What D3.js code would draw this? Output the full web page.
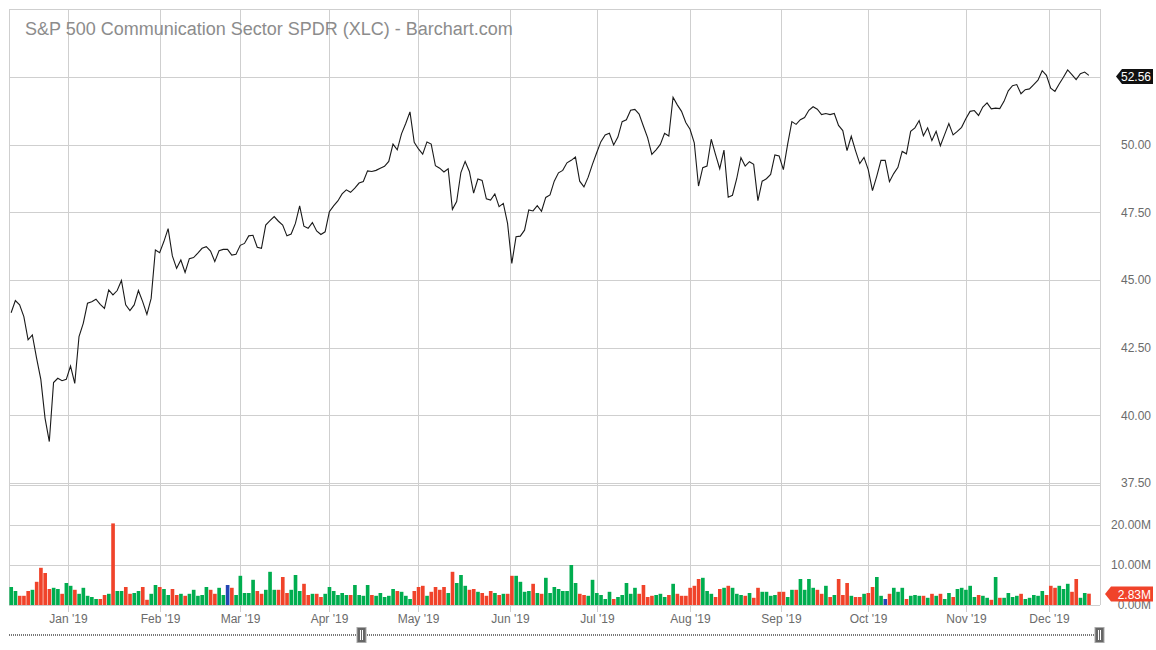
<!DOCTYPE html>
<html>
<head>
  <meta charset="utf-8" />
  <title>XLC</title>
  <style>
    body { margin: 0; background: #fff; }
    svg { display: block; font-family: "Liberation Sans", Arial, sans-serif; }
    .grid line { stroke: #cfcfcf; stroke-width: 1; shape-rendering: crispEdges; }
    .axis text { fill: #6b6b6b; font-size: 12px; }
    .axis path, .axis line { display: none; }
  </style>
  <script src="https://cdnjs.cloudflare.com/ajax/libs/d3/7.8.5/d3.min.js"></script>
</head>
<body>
  <div id="chart"></div>
  <script>
    var title = "S&P 500 Communication Sector SPDR (XLC) - Barchart.com";

    // trading calendar: Dec 11 2018 .. Dec 13 2019, minus NYSE holidays
    var firstDay = "2018-12-11", lastDay = "2019-12-13";
    var holidays = ["2018-12-25", "2019-01-01", "2019-01-21", "2019-02-18", "2019-04-19",
      "2019-05-27", "2019-07-04", "2019-09-02", "2019-11-28"];

    // daily closes
    var prevClose = 43.70;
    var closes = [
      43.79, 44.24, 44.08, 43.65, 42.79, 42.97, 42.11, 41.33, 39.89, 39.03,
      41.21, 41.37, 41.28, 41.33, 41.82, 41.18, 42.91, 43.40, 44.14, 44.20,
      44.29, 44.10, 43.95, 44.63, 44.45, 44.61, 44.98, 44.08, 43.87, 44.08,
      44.61, 44.20, 43.73, 44.32, 46.11, 46.01, 46.42, 46.90, 45.89, 45.43,
      45.74, 45.28, 45.79, 45.83, 45.99, 46.17, 46.23, 46.07, 45.68, 46.08,
      46.13, 46.13, 45.92, 45.95, 46.28, 46.35, 46.63, 46.65, 46.21, 46.17,
      47.03, 47.19, 47.34, 47.17, 47.03, 46.63, 46.70, 47.09, 47.74, 46.99,
      46.91, 47.12, 46.81, 46.68, 46.78, 47.52, 47.74, 47.92, 48.18, 48.33,
      48.24, 48.39, 48.58, 48.64, 49.03, 49.01, 49.05, 49.13, 49.20, 49.38,
      50.02, 49.81, 50.40, 50.78, 51.21, 50.09, 49.84, 49.65, 50.10, 50.02,
      49.22, 49.13, 48.99, 49.11, 47.61, 47.90, 48.97, 49.38, 49.01, 48.21,
      48.73, 48.68, 48.00, 47.95, 48.18, 47.71, 47.83, 47.09, 45.61, 46.60,
      46.62, 46.84, 47.59, 47.55, 47.75, 47.54, 48.05, 48.14, 48.65, 48.96,
      49.05, 49.33, 49.42, 49.54, 48.65, 48.44, 48.80, 49.27, 49.70, 50.11,
      50.36, 50.42, 49.99, 50.28, 50.85, 50.92, 51.27, 51.30, 51.13, 50.69,
      50.26, 49.64, 49.81, 50.01, 50.42, 50.32, 51.75, 51.47, 51.23, 50.82,
      50.57, 50.07, 48.47, 49.15, 49.21, 50.20, 49.64, 49.11, 49.80, 48.06,
      48.13, 48.74, 49.52, 49.21, 49.37, 49.27, 47.93, 48.65, 48.74, 48.90,
      49.62, 49.58, 49.08, 50.01, 50.85, 50.75, 50.92, 51.00, 51.27, 51.40,
      51.31, 51.11, 51.15, 51.11, 51.15, 50.71, 50.52, 49.78, 50.31, 49.78,
      49.30, 49.53, 49.08, 48.30, 48.83, 49.42, 49.42, 48.63, 48.93, 49.16,
      49.75, 49.66, 50.49, 50.62, 50.89, 50.33, 50.62, 50.15, 50.49, 49.96,
      50.37, 50.78, 50.36, 50.49, 50.64, 50.96, 51.23, 51.26, 51.08, 51.39,
      51.54, 51.32, 51.35, 51.33, 51.60, 51.99, 52.18, 52.22, 51.88, 52.03,
      52.06, 52.22, 52.38, 52.73, 52.56, 52.09, 51.97, 52.24, 52.49, 52.76,
      52.59, 52.40, 52.62, 52.68, 52.56
    ];

    // daily volume, millions
    var volumes = [
      4.5, 3.5, 2.3, 2.3, 3.5, 3.8, 5.8, 9.3, 8.0, 4.0,
      4.3, 4.0, 2.8, 5.5, 4.8, 3.8, 2.8, 4.3, 2.3, 2.0,
      1.5, 1.5, 2.5, 2.8, 20.4, 3.5, 3.5, 4.5, 2.8, 3.0,
      3.5, 4.5, 1.3, 2.8, 5.0, 4.5, 4.0, 2.5, 4.0, 2.5,
      2.8, 2.3, 2.8, 3.8, 2.3, 2.5, 4.5, 3.8, 2.8, 4.3,
      2.5, 5.0, 4.3, 2.5, 7.3, 3.0, 3.0, 6.3, 3.5, 2.8,
      3.8, 8.3, 3.8, 3.8, 7.0, 3.0, 3.8, 7.5, 3.5, 5.3,
      2.5, 2.8, 2.8, 2.0, 2.8, 4.5, 3.5, 2.5, 3.0, 2.5,
      2.5, 5.0, 2.5, 2.3, 5.0, 2.5, 2.3, 3.0, 2.0, 2.3,
      4.0, 3.5, 3.3, 2.3, 1.5, 3.5, 4.5, 4.8, 2.3, 3.3,
      4.5, 3.8, 4.5, 3.0, 8.3, 5.5, 7.5, 4.8, 3.8, 4.0,
      3.3, 3.0, 2.3, 3.5, 3.0, 2.5, 2.8, 2.8, 7.3, 7.3,
      5.8, 3.3, 3.5, 5.3, 3.0, 2.8, 6.8, 3.0, 4.5, 4.0,
      3.5, 3.5, 10.0, 5.5, 2.8, 2.5, 2.3, 6.3, 3.0, 2.5,
      1.5, 3.3, 1.5, 2.0, 2.5, 5.5, 2.8, 4.3, 2.8, 5.0,
      2.0, 2.3, 2.5, 2.8, 2.0, 2.5, 5.3, 2.8, 2.3, 2.3,
      4.3, 4.8, 6.5, 6.8, 3.5, 2.8, 2.0, 4.0, 4.3, 4.8,
      4.3, 2.8, 2.5, 2.3, 3.0, 1.8, 4.3, 3.3, 3.3, 2.3,
      2.5, 3.3, 3.3, 2.0, 3.8, 3.8, 6.5, 3.8, 6.5, 4.3,
      3.8, 2.8, 4.8, 2.0, 2.5, 6.5, 2.5, 5.5, 2.3, 2.0,
      2.0, 2.8, 3.0, 4.5, 7.0, 2.3, 1.5, 2.8, 4.3, 3.3,
      4.3, 1.5, 2.3, 2.5, 2.3, 2.3, 1.8, 2.8, 2.3, 2.8,
      1.5, 3.0, 2.0, 4.0, 4.3, 3.8, 4.8, 2.0, 2.5, 2.3,
      1.8, 1.3, 7.0, 1.8, 1.8, 3.0, 2.0, 2.3, 2.8, 1.5,
      1.8, 2.5, 2.3, 3.5, 2.5, 4.8, 4.3, 4.8, 4.0, 5.3,
      3.3, 6.5, 1.8, 3.0, 2.83
    ];

    var priceGrid = [40, 42.5, 45, 47.5, 50, 52.5];
    var priceLabels = [37.5, 40, 42.5, 45, 47.5, 50];
    var volTicks = [0, 10, 20];

    var W = 1156, H = 650;
    var plotLeft = 9, plotRight = 1100, plotEnd = 1091;
    var plotTop = 9, priceBottom = 483, volTop = 485, volBottom = 605;

    var fmtKey = d3.timeFormat("%Y-%m-%d");
    var parse = d3.timeParse("%Y-%m-%d");
    var days = d3.timeDay.range(parse(firstDay), d3.timeDay.offset(parse(lastDay), 1))
      .filter(d => d.getDay() !== 0 && d.getDay() !== 6 && holidays.indexOf(fmtKey(d)) < 0);

    var data = closes.map((c, i) => ({
      date: days[i],
      close: c,
      vol: volumes[i],
      prev: i === 0 ? prevClose : closes[i - 1]
    }));

    var x = d3.scaleBand()
      .domain(data.map(d => d.date))
      .range([plotLeft, plotEnd])
      .paddingInner(0);
    var bw = x.bandwidth();

    var y = d3.scaleLinear().domain([37.5, 55]).range([priceBottom, plotTop + 0.3]);
    var yv = d3.scaleLinear().domain([0, 30]).range([volBottom, volTop]);

    var svg = d3.select('#chart').append('svg')
      .attr('width', W)
      .attr('height', H);

    // month starts: first trading day of each month
    var months = [];
    data.forEach((d, i) => {
      if (i > 0 && d.date.getMonth() !== data[i - 1].date.getMonth()) months.push(d.date);
    });
    var monthX = d => Math.round(x(d) + (d.getDate() === 1 ? bw / 2 : 0)) + 0.5;

    var grid = svg.append('g').attr('class', 'grid');

    // horizontal grid
    grid.selectAll('.hp').data(priceGrid.concat([37.5, 55])).enter().append('line')
      .attr('x1', plotLeft).attr('x2', plotRight)
      .attr('y1', d => Math.round(y(d)) + 0.5).attr('y2', d => Math.round(y(d)) + 0.5);
    grid.selectAll('.hv').data([0, 10, 20, 30]).enter().append('line')
      .attr('x1', plotLeft).attr('x2', plotRight)
      .attr('y1', d => Math.round(yv(d)) + 0.5).attr('y2', d => Math.round(yv(d)) + 0.5);

    // vertical grid
    grid.selectAll('.vm').data(months).enter().append('line')
      .attr('x1', monthX).attr('x2', monthX)
      .attr('y1', plotTop).attr('y2', volBottom + 7);
    grid.append('line').attr('x1', plotLeft + 0.5).attr('x2', plotLeft + 0.5).attr('y1', plotTop).attr('y2', volBottom);
    grid.append('line').attr('x1', plotRight + 0.5).attr('x2', plotRight + 0.5).attr('y1', plotTop).attr('y2', volBottom);

    // title
    svg.append('text')
      .attr('x', 25).attr('y', 35)
      .attr('fill', '#8c8c8c')
      .style('font-size', '18px')
      .text(title);

    // volume bars
    var colour = d => d.close > d.prev ? '#00ad4f' : d.close < d.prev ? '#f0432a' : '#2346b4';
    svg.append('g').selectAll('rect').data(data).enter().append('rect')
      .attr('x', d => x(d.date) + 0.4)
      .attr('width', bw - 0.6)
      .attr('y', d => yv(d.vol))
      .attr('height', d => yv(0) - yv(d.vol))
      .attr('fill', colour);

    // price line
    var line = d3.line()
      .x(d => x(d.date) + bw / 2)
      .y(d => y(d.close));
    svg.append('path').datum(data)
      .attr('d', line)
      .attr('fill', 'none')
      .attr('stroke', '#1a1a1a')
      .attr('stroke-width', 1.1);

    // right-hand axes
    svg.append('g').attr('class', 'axis')
      .attr('transform', 'translate(1151,0)')
      .call(d3.axisLeft(y).tickValues(priceLabels).tickSize(0).tickPadding(0).tickFormat(d3.format('.2f')));
    svg.append('g').attr('class', 'axis')
      .attr('transform', 'translate(1151,0)')
      .call(d3.axisLeft(yv).tickValues(volTicks).tickSize(0).tickPadding(0).tickFormat(d => d3.format('.2f')(d) + 'M'));

    // month labels
    var fmtMonth = d3.timeFormat("%b '%y");
    svg.append('g').selectAll('text').data(months).enter().append('text')
      .attr('x', monthX).attr('y', 623)
      .attr('text-anchor', 'middle')
      .attr('fill', '#6b6b6b')
      .style('font-size', '12px')
      .text(fmtMonth);

    // last value tags
    function tag(yc, tipX, fill, label) {
      var g = svg.append('g');
      g.append('path')
        .attr('d', 'M' + tipX + ',' + yc + 'L' + (tipX + 6) + ',' + (yc - 7.5) + 'L1153,' + (yc - 7.5) +
          'L1153,' + (yc + 7.5) + 'L' + (tipX + 6) + ',' + (yc + 7.5) + 'Z')
        .attr('fill', fill);
      g.append('text')
        .attr('x', 1151).attr('y', yc + 4.5)
        .attr('text-anchor', 'end')
        .attr('fill', '#fff')
        .style('font-size', '12px')
        .text(label);
    }
    var last = data[data.length - 1];
    tag(Math.round(y(last.close)) + 1.5, 1116, '#111', d3.format('.2f')(last.close));
    tag(Math.round(yv(last.vol)), 1105, colour(last), d3.format('.2f')(last.vol) + 'M');

    // navigator strip
    svg.append('line')
      .attr('x1', plotLeft).attr('x2', plotRight + 2)
      .attr('y1', 635).attr('y2', 635)
      .attr('stroke', '#777').attr('stroke-width', 2).attr('stroke-dasharray', '1,1');
    [361.5, 1099.5].forEach(cx => {
      var h = svg.append('g');
      h.append('rect')
        .attr('x', cx - 4.5).attr('y', 627.5).attr('width', 9).attr('height', 15)
        .attr('fill', '#666').attr('stroke', '#aaa');
      h.selectAll('line').data([-1, 1]).enter().append('line')
        .attr('x1', d => cx + d).attr('x2', d => cx + d)
        .attr('y1', 630).attr('y2', 640)
        .attr('stroke', '#fff').attr('stroke-width', 1);
    });
  </script>
</body>
</html>
